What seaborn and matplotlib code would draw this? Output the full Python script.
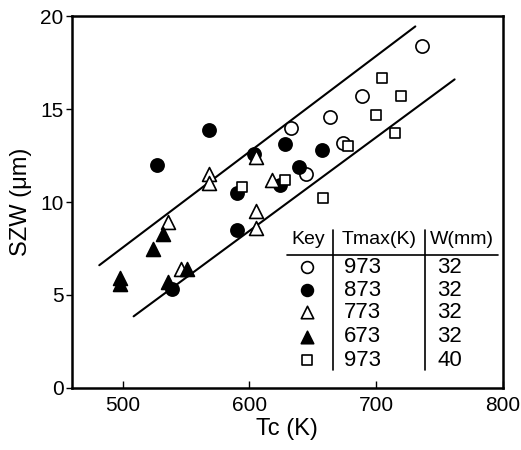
import matplotlib
matplotlib.use("Agg")
import matplotlib.pyplot as plt
import seaborn as sns
import pandas as pd

sns.set_theme(style="white")
plt.rcParams['font.family'] = ['Liberation Sans', 'DejaVu Sans']
plt.rcParams['text.color'] = 'black'
plt.rcParams['axes.labelcolor'] = 'black'

# Data: Tc (K) and SZW (um) per key group
open_circle_x = [736, 689, 664, 633, 674, 645]
open_circle_y = [18.4, 15.7, 14.6, 14.0, 13.2, 11.5]

filled_circle_x = [527, 568, 604, 628, 639.5, 657, 624, 590, 590, 539]
filled_circle_y = [12.0, 13.9, 12.6, 13.1, 11.9, 12.8, 10.9, 10.5, 8.5, 5.3]

open_tri_x = [568, 568, 605, 618, 605, 605, 535.5, 546]
open_tri_y = [11.5, 11.0, 12.4, 11.2, 9.5, 8.6, 8.9, 6.4]

filled_tri_x = [498, 498, 524, 531.5, 535.5, 551]
filled_tri_y = [5.9, 5.6, 7.5, 8.3, 5.7, 6.4]

square_x = [705, 720, 700, 715, 677.6, 658, 628, 594]
square_y = [16.7, 15.7, 14.7, 13.7, 13.0, 10.2, 11.2, 10.8]

# Bounding lines
upper_line_x = [481.6, 731]
upper_line_y = [6.6, 19.45]
lower_line_x = [508.7, 762]
lower_line_y = [3.85, 16.6]

key_tmax = ["973", "873", "773", "673", "973"]
key_w = ["32", "32", "32", "32", "40"]

groups = [
    (open_circle_x, open_circle_y, "o", "white", 90),
    (filled_circle_x, filled_circle_y, "o", "black", 90),
    (open_tri_x, open_tri_y, "^", "white", 100),
    (filled_tri_x, filled_tri_y, "^", "black", 100),
    (square_x, square_y, "s", "white", 60),
]

fig = plt.figure(figsize=(5.21, 4.5), dpi=100)
ax = fig.add_axes([0.138, 0.138, 0.827, 0.826])

for xs, ys, m, fc, s in groups:
    df = pd.DataFrame({"Tc": xs, "SZW": ys})
    sns.scatterplot(data=df, x="Tc", y="SZW", marker=m, s=s, color=fc,
                    edgecolor="black", linewidth=1.2, ax=ax, zorder=3)

for lx, ly in [(upper_line_x, upper_line_y), (lower_line_x, lower_line_y)]:
    sns.lineplot(x=lx, y=ly, color="black", linewidth=1.5, ax=ax, zorder=2)

ax.set_xlim(460, 800)
ax.set_ylim(0, 20)
ax.set_xticks([500, 600, 700, 800])
ax.set_yticks([0, 5, 10, 15, 20])
ax.tick_params(axis="x", direction="in", length=5, width=1, labelsize=15, pad=6, colors="black")
ax.tick_params(axis="y", direction="out", length=4, width=1, labelsize=15, pad=2, colors="black")
ax.tick_params(left=True, bottom=True)
for sp in ax.spines.values():
    sp.set_color("black")
    sp.set_linewidth(1.8)
ax.set_xlabel("Tc (K)", fontsize=17, color="black", labelpad=2)
ax.set_ylabel("SZW (μm)", fontsize=17, color="black", labelpad=6)

# Key table
tr = ax.transAxes
fs = 14
ax.text(0.548, 0.398, "Key", transform=tr, ha="center", va="center", fontsize=fs)
ax.text(0.713, 0.398, "Tmax(K)", transform=tr, ha="center", va="center", fontsize=fs)
ax.text(0.905, 0.398, "W(mm)", transform=tr, ha="center", va="center", fontsize=fs)
ax.plot([0.499, 0.988], [0.358, 0.358], transform=tr, color="black", lw=1.2)
ax.plot([0.606, 0.606], [0.425, 0.048], transform=tr, color="black", lw=1.2)
ax.plot([0.819, 0.819], [0.425, 0.048], transform=tr, color="black", lw=1.2)
row_y = [0.325, 0.263, 0.204, 0.137, 0.075]
for (xs, ys, m, fc, s), ry, t, w in zip(groups, row_y, key_tmax, key_w):
    ax.scatter([0.545], [ry], transform=tr, marker=m, s=s * 0.8, c=fc,
               edgecolors="black", linewidths=1.2, zorder=4)
    ax.text(0.675, ry, t, transform=tr, ha="center", va="center", fontsize=fs + 2)
    ax.text(0.877, ry, w, transform=tr, ha="center", va="center", fontsize=fs + 2)

fig.savefig("out.png", dpi=100)
